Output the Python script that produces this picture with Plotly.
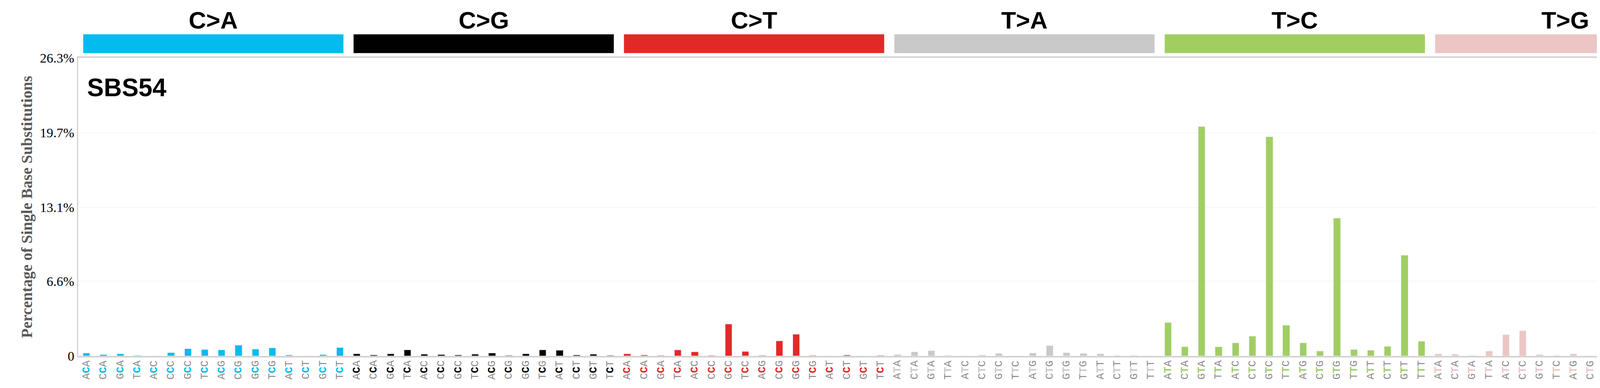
import plotly.graph_objects as go

mut_types = ['C>A', 'C>G', 'C>T', 'T>A', 'T>C', 'T>G']
type_colors = ['#03BCEE', '#010101', '#E32926', '#CAC9C9', '#A1CE63', '#EBC6C4']
flanks = [a + '_' + b for a in 'ACGT' for b in 'ACGT']

ca = [0.24, 0.10, 0.17, 0.03, 0.0, 0.27, 0.61, 0.55, 0.51, 0.92, 0.58, 0.68, 0.07, 0.0, 0.10, 0.72]
cg = [0.17, 0.07, 0.17, 0.51, 0.14, 0.10, 0.07, 0.14, 0.24, 0.03, 0.17, 0.51, 0.48, 0.07, 0.14, 0.03]
ct = [0.17, 0.07, 0.03, 0.51, 0.34, 0.03, 2.80, 0.38, 0.03, 1.30, 1.91, 0.03, 0.0, 0.07, 0.0, 0.03]
ta = [0.10, 0.34, 0.44, 0.02, 0.0, 0.07, 0.20, 0.0, 0.24, 0.89, 0.27, 0.20, 0.17, 0.02, 0.02, 0.0]
tc = [2.93, 0.79, 20.24, 0.79, 1.13, 1.72, 19.34, 2.69, 1.13, 0.43, 12.14, 0.55, 0.48, 0.82, 8.86, 1.27]
tg = [0.16, 0.13, 0.03, 0.43, 1.88, 2.21, 0.10, 0.03, 0.16, 0.0, 0.0, 0.0, 0.0, 0.06, 0.79, 0.06]
values = [ca, cg, ct, ta, tc, tg]

y_ticks = [0, 6.6, 13.1, 19.7, 26.3]
y_labels = ['0', '6.6%', '13.1%', '19.7%', '26.3%']

x, y, colors, labels = [], [], [], []
for k, mt in enumerate(mut_types):
    ref = mt[0]
    for j, f in enumerate(flanks):
        left, right = f.split('_')
        x.append(16 * k + j)
        y.append(values[k][j])
        colors.append(type_colors[k])
        # text rotated -90 reads bottom-up, so write it reversed
        labels.append(right + "<span style='color:%s'><b>%s</b></span>" % (type_colors[k], ref) + left)

fig = go.Figure(go.Bar(x=x, y=y, marker_color=colors, width=0.4))

for i, lab in zip(x, labels):
    fig.add_annotation(x=i, xref='x', y=-0.012, yref='paper', text=lab, textangle=-90,
                       showarrow=False, yanchor='top',
                       font=dict(family='Liberation Mono', size=27, color='#8c8c8c'))

for k, mt in enumerate(mut_types):
    fig.add_shape(type='rect', xref='x', yref='paper',
                  x0=16 * k - 0.5 + 0.3, x1=16 * k + 15.5 - 0.3, y0=1.016, y1=1.079,
                  fillcolor=type_colors[k], line_width=0)
    fig.add_annotation(x=16 * k + 7.5, xref='x', y=1.175, yref='paper', text='<b>%s</b>' % mt,
                       showarrow=False, font=dict(family='Liberation Sans', size=62, color='black'))

fig.add_annotation(x=0.005, xref='paper', y=0.9, yref='paper', text='<b>SBS54</b>',
                   showarrow=False, xanchor='left', yanchor='middle',
                   font=dict(family='Liberation Sans', size=64, color='black'))

fig.update_layout(
    width=4393, height=992,
    margin=dict(l=192, r=48, t=140, b=90, autoexpand=False),
    plot_bgcolor='white', paper_bgcolor='white',
    showlegend=False, bargap=0,
)
fig.update_xaxes(showticklabels=False, showline=True, linecolor='#d3d3d3', linewidth=4,
                 mirror=True, showgrid=False, range=[-0.5, 95.5])
fig.update_yaxes(range=[0, 26.3], tickmode='array', tickvals=y_ticks, ticktext=y_labels,
                 tickfont=dict(family='Liberation Sans Narrow', size=34, color='black'),
                 showline=True, linecolor='#d3d3d3', linewidth=3, mirror=True,
                 gridcolor='#ececec', gridwidth=1, zeroline=False, automargin=False,
                 title=dict(text='<b>Percentage of Single Base Substitutions</b>',
                            font=dict(family='Liberation Serif', size=40, color='#5a5a5a'),
                            standoff=8))

fig.write_html('out.html')
